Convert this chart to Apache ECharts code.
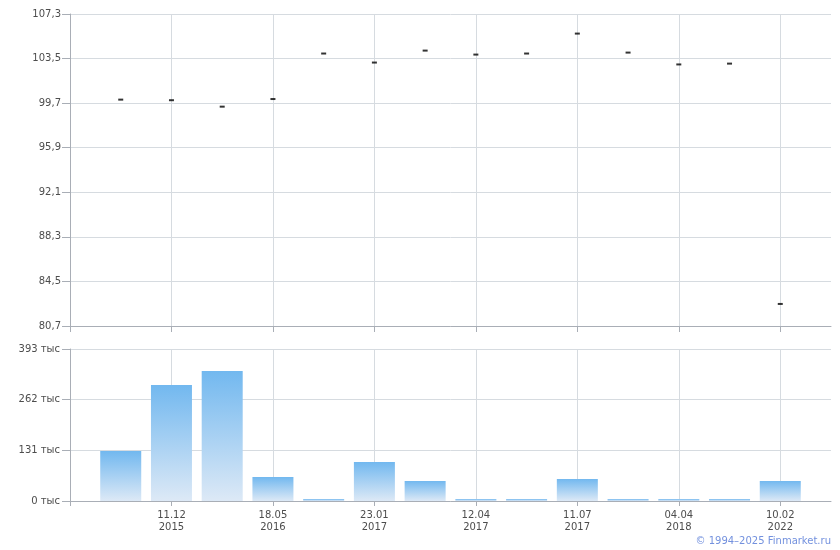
<!DOCTYPE html>
<html>
<head>
<meta charset="utf-8">
<script src="https://cdn.jsdelivr.net/npm/echarts@6/dist/echarts.min.js"></script>
<style>
html,body{margin:0;padding:0;background:#fff;}
#c{width:840px;height:550px;}
</style>
</head>
<body>
<div id="c"></div>
<script>
const categories = ['22.10\n2015','11.12\n2015','03.03\n2016','18.05\n2016','02.09\n2016','23.01\n2017','02.03\n2017','12.04\n2017','30.05\n2017','11.07\n2017','15.11\n2017','04.04\n2018','21.06\n2019','10.02\n2022'];
const prices = [100.0, 99.95, 99.4, 100.05, 103.93, 103.16, 104.18, 103.84, 103.93, 105.63, 104.01, 103.0, 103.07, 82.58];
const volumes = [129000, 300000, 336000, 62000, 3000, 101000, 52000, 2000, 5000, 57000, 2000, 2000, 2000, 52000];
const priceTicks = {min: 80.7, max: 107.3, interval: 3.8};
const volumeTicks = {min: 0, max: 393000, interval: 131000};

const padCats = [''].concat(categories, ['']);
const padPrices = ['-'].concat(prices, ['-']);
const padVolumes = ['-'].concat(volumes, ['-']);
const last = padCats.length - 1;

const axisGray = '#a9aeb6';
const gridGray = '#d6dbe0';
const textColor = '#4d4d4d';
const font = 'DejaVu Sans';

const chart = echarts.init(document.getElementById('c'));
chart.setOption({
  animation: false,
  backgroundColor: '#fff',
  graphic: [{
    type: 'text', right: 9, top: 536,
    style: {text: '\u00a9 1994\u20132025 Finmarket.ru', fill: '#7391de', font: '10px "DejaVu Sans"'}
  }],
  grid: [
    {left: 70, right: 9, top: 14, height: 312},
    {left: 70, right: 9, top: 349, height: 152}
  ],
  xAxis: [
    {
      type: 'category', gridIndex: 0, data: padCats, boundaryGap: false,
      axisLine: {lineStyle: {color: axisGray}},
      axisTick: {length: 6, lineStyle: {color: axisGray}, interval: (i) => i % 2 === 0 && i < last},
      axisLabel: {show: false},
      splitLine: {show: true, lineStyle: {color: gridGray}, interval: (i) => i % 2 === 0 && i > 0 && i < last}
    },
    {
      type: 'category', gridIndex: 1, data: padCats, boundaryGap: false,
      axisLine: {lineStyle: {color: axisGray}},
      axisTick: {length: 5, lineStyle: {color: axisGray}, interval: (i) => i % 2 === 0 && i < last},
      axisLabel: {
        interval: (i) => i % 2 === 0 && i > 0 && i < last,
        color: textColor, fontFamily: font, fontSize: 10, lineHeight: 12, margin: 8
      },
      splitLine: {show: true, lineStyle: {color: gridGray}, interval: (i) => i % 2 === 0 && i > 0 && i < last}
    }
  ],
  yAxis: [
    {
      type: 'value', gridIndex: 0, min: priceTicks.min, max: priceTicks.max, interval: priceTicks.interval,
      axisLine: {show: true, lineStyle: {color: axisGray}},
      axisTick: {show: true, length: 8, lineStyle: {color: axisGray}},
      axisLabel: {color: textColor, fontFamily: font, fontSize: 10, margin: 9,
        formatter: (v) => v.toFixed(1).replace('.', ',')},
      splitLine: {lineStyle: {color: gridGray}}
    },
    {
      type: 'value', gridIndex: 1, min: volumeTicks.min, max: volumeTicks.max, interval: volumeTicks.interval,
      axisLine: {show: true, lineStyle: {color: axisGray}},
      axisTick: {show: true, length: 8, lineStyle: {color: axisGray}},
      axisLabel: {color: textColor, fontFamily: font, fontSize: 10, margin: 10,
        formatter: (v) => Math.round(v / 1000) + ' \u0442\u044b\u0441'},
      splitLine: {lineStyle: {color: gridGray}}
    }
  ],
  series: [
    {
      type: 'scatter', xAxisIndex: 0, yAxisIndex: 0, data: padPrices,
      symbol: 'rect', symbolSize: [5, 2], itemStyle: {color: '#000'}
    },
    {
      type: 'bar', xAxisIndex: 1, yAxisIndex: 1, data: padVolumes, barWidth: 41,
      barMinHeight: 2,
      itemStyle: {
        color: new echarts.graphic.LinearGradient(0, 0, 0, 1, [
          {offset: 0, color: '#72b8ef'},
          {offset: 1, color: '#dde9f6'}
        ])
      }
    }
  ]
});
</script>
</body>
</html>
